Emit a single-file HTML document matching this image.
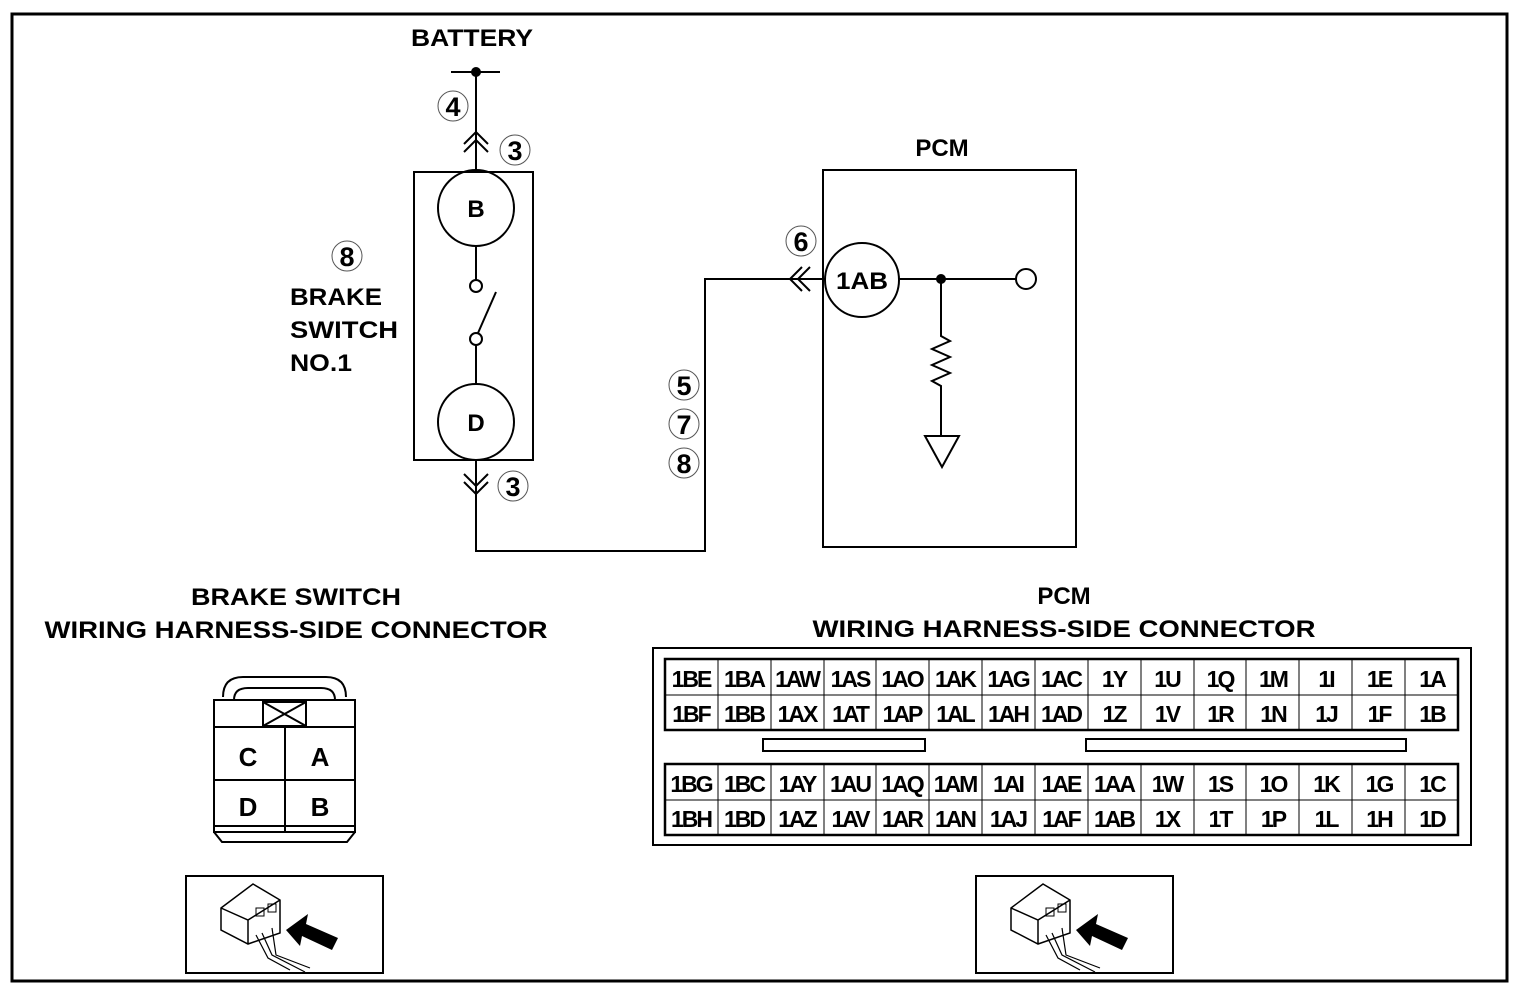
<!DOCTYPE html>
<html><head><meta charset="utf-8"><style>body{margin:0;background:#fff}svg{display:block}</style></head><body>
<svg width="1518" height="998" viewBox="0 0 1518 998" xmlns="http://www.w3.org/2000/svg" font-family="Liberation Sans, sans-serif" fill="none" stroke="#000">
<rect x="12" y="14" width="1495" height="967" stroke-width="3"/>
<g fill="#000" stroke="none" font-size="24" text-anchor="middle" font-weight="bold" stroke-width="0">
<text x="472" y="46" textLength="122" lengthAdjust="spacingAndGlyphs">BATTERY</text>
<text x="942" y="156">PCM</text>
<text x="290" y="305" text-anchor="start" textLength="92" lengthAdjust="spacingAndGlyphs">BRAKE</text>
<text x="290" y="338" text-anchor="start" textLength="108" lengthAdjust="spacingAndGlyphs">SWITCH</text>
<text x="290" y="371" text-anchor="start" textLength="62" lengthAdjust="spacingAndGlyphs">NO.1</text>
<text x="296" y="605" textLength="210" lengthAdjust="spacingAndGlyphs">BRAKE SWITCH</text>
<text x="296" y="638" textLength="503" lengthAdjust="spacingAndGlyphs">WIRING HARNESS-SIDE CONNECTOR</text>
<text x="1064" y="604">PCM</text>
<text x="1064" y="637" textLength="503" lengthAdjust="spacingAndGlyphs">WIRING HARNESS-SIDE CONNECTOR</text>
</g>
<!-- battery -->
<line x1="451" y1="72" x2="500" y2="72" stroke-width="2"/>
<circle cx="476" cy="72" r="5" fill="#000" stroke="none"/>
<line x1="476" y1="72" x2="476" y2="172" stroke-width="2"/>
<path d="M464 144 L476 132 L488 144 M464 152 L476 140 L488 152" stroke-width="2"/>
<!-- numbered circles -->
<g stroke-width="1" stroke="#555">
<circle cx="453" cy="106" r="15"/><circle cx="515" cy="150" r="15"/>
<circle cx="347" cy="256" r="15"/><circle cx="513" cy="486" r="15"/>
<circle cx="801" cy="241" r="15"/><circle cx="684" cy="385" r="15"/>
<circle cx="684" cy="424" r="15"/><circle cx="684" cy="463" r="15"/>
</g>
<g fill="#000" stroke="none" font-size="27" text-anchor="middle" font-weight="bold">
<text x="453" y="116">4</text><text x="515" y="160">3</text>
<text x="347" y="266">8</text><text x="513" y="496">3</text>
<text x="801" y="251">6</text><text x="684" y="395">5</text>
<text x="684" y="434">7</text><text x="684" y="473">8</text>
</g>
<!-- brake switch -->
<rect x="414" y="172" width="119" height="288" stroke-width="2"/>
<circle cx="476" cy="208" r="38" stroke-width="2"/>
<circle cx="476" cy="422" r="38" stroke-width="2"/>
<g fill="#000" stroke="none" font-size="24" font-weight="bold" text-anchor="middle"><text x="476" y="217">B</text><text x="476" y="431">D</text></g>
<line x1="476" y1="246" x2="476" y2="280" stroke-width="2"/>
<circle cx="476" cy="286" r="6" fill="#fff" stroke-width="2"/>
<circle cx="476" cy="339" r="6" fill="#fff" stroke-width="2"/>
<line x1="478" y1="333" x2="496" y2="292" stroke-width="2"/>
<line x1="476" y1="345" x2="476" y2="384" stroke-width="2"/>
<path d="M476 460 L476 551 L705 551 L705 279 L838 279" stroke-width="2"/>
<path d="M464 474 L476 486 L488 474 M464 482 L476 494 L488 482" stroke-width="2"/>
<path d="M802 267 L790 279 L802 291 M810 267 L798 279 L810 291" stroke-width="2"/>
<!-- PCM -->
<rect x="823" y="170" width="253" height="377" stroke-width="2"/>
<circle cx="862" cy="280" r="37" fill="#fff" stroke-width="2"/>
<text x="862" y="289" font-size="24" font-weight="bold" fill="#000" stroke="none" text-anchor="middle" textLength="52" lengthAdjust="spacingAndGlyphs">1AB</text>
<line x1="899" y1="279" x2="1016" y2="279" stroke-width="2"/>
<circle cx="941" cy="279" r="5" fill="#000" stroke="none"/>
<circle cx="1026" cy="279" r="10" stroke-width="2"/>
<path d="M941 279 L941 336 L950 341 L932 349 L950 357 L932 365 L950 373 L932 381 L941 386 L941 436" stroke-width="2"/>
<path d="M925 436 L959 436 L942 467 Z" stroke-width="2"/>
<!-- brake connector -->
<g stroke-width="2">
<path d="M223 697 Q223 677 243 677 L326 677 Q346 677 346 697"/>
<path d="M234 700 Q234 688 248 688 L321 688 Q335 688 335 700"/>
<rect x="214" y="700" width="141" height="132"/>
<line x1="214" y1="727" x2="355" y2="727"/>
<rect x="263" y="702" width="43" height="24"/>
<path d="M263 702 L306 726 M306 702 L263 726"/>
<line x1="285" y1="727" x2="285" y2="832"/>
<line x1="214" y1="780" x2="355" y2="780"/>
<line x1="214" y1="826" x2="355" y2="826"/>
<path d="M214 832 L222 842 L347 842 L355 832"/>
</g>
<g fill="#000" stroke="none" font-size="26" font-weight="bold" text-anchor="middle">
<text x="248" y="766">C</text><text x="320" y="766">A</text>
<text x="248" y="816">D</text><text x="320" y="816">B</text>
</g>
<!-- icons -->
<g id="ic">
<rect x="186" y="876" width="197" height="97" stroke-width="2"/>
<path d="M221 908 L253 884 L280 900 L280 933 L248 944 L221 930 Z M221 908 L248 920 L280 900 M248 920 L248 944" stroke-width="1.5"/>
<rect x="256" y="908" width="8" height="8" stroke-width="1"/><rect x="268" y="904" width="8" height="8" stroke-width="1"/>
<path d="M256 935 L268 958 L290 970 M262 933 L272 955 L305 972 M272 928 L276 955 L310 968" stroke-width="1.2"/>
<path d="M286 930 L308 914 L306 924 L338 938 L332 950 L302 936 L300 946 Z" fill="#000" stroke="none"/>
</g>
<use href="#ic" x="790"/>
<!-- PCM connector -->
<rect x="653" y="648" width="818" height="197" stroke-width="2"/>
<rect x="665" y="659" width="793" height="71" stroke-width="2.5"/>
<rect x="665" y="764" width="793" height="71" stroke-width="2.5"/>
<line x1="665" y1="695" x2="1458" y2="695" stroke-width="1"/>
<line x1="665" y1="800" x2="1458" y2="800" stroke-width="1"/>
<g stroke-width="1">
<path d="M718 659V730M771 659V730M824 659V730M876 659V730M929 659V730M982 659V730M1035 659V730M1088 659V730M1141 659V730M1194 659V730M1246 659V730M1299 659V730M1352 659V730M1405 659V730"/>
<path d="M718 764V835M771 764V835M824 764V835M876 764V835M929 764V835M982 764V835M1035 764V835M1088 764V835M1141 764V835M1194 764V835M1246 764V835M1299 764V835M1352 764V835M1405 764V835"/>
</g>
<rect x="763" y="739" width="162" height="12" stroke-width="2"/>
<rect x="1086" y="739" width="320" height="12" stroke-width="2"/>
<g fill="#000" stroke="none" font-size="23" font-weight="bold" text-anchor="middle" letter-spacing="-2">
<text y="687"><tspan x="691">1BE</tspan><tspan x="744">1BA</tspan><tspan x="797">1AW</tspan><tspan x="850">1AS</tspan><tspan x="902">1AO</tspan><tspan x="955">1AK</tspan><tspan x="1008">1AG</tspan><tspan x="1061">1AC</tspan><tspan x="1114">1Y</tspan><tspan x="1167">1U</tspan><tspan x="1220">1Q</tspan><tspan x="1273">1M</tspan><tspan x="1326">1I</tspan><tspan x="1379">1E</tspan><tspan x="1432">1A</tspan></text>
<text y="722"><tspan x="691">1BF</tspan><tspan x="744">1BB</tspan><tspan x="797">1AX</tspan><tspan x="850">1AT</tspan><tspan x="902">1AP</tspan><tspan x="955">1AL</tspan><tspan x="1008">1AH</tspan><tspan x="1061">1AD</tspan><tspan x="1114">1Z</tspan><tspan x="1167">1V</tspan><tspan x="1220">1R</tspan><tspan x="1273">1N</tspan><tspan x="1326">1J</tspan><tspan x="1379">1F</tspan><tspan x="1432">1B</tspan></text>
<text y="792"><tspan x="691">1BG</tspan><tspan x="744">1BC</tspan><tspan x="797">1AY</tspan><tspan x="850">1AU</tspan><tspan x="902">1AQ</tspan><tspan x="955">1AM</tspan><tspan x="1008">1AI</tspan><tspan x="1061">1AE</tspan><tspan x="1114">1AA</tspan><tspan x="1167">1W</tspan><tspan x="1220">1S</tspan><tspan x="1273">1O</tspan><tspan x="1326">1K</tspan><tspan x="1379">1G</tspan><tspan x="1432">1C</tspan></text>
<text y="827"><tspan x="691">1BH</tspan><tspan x="744">1BD</tspan><tspan x="797">1AZ</tspan><tspan x="850">1AV</tspan><tspan x="902">1AR</tspan><tspan x="955">1AN</tspan><tspan x="1008">1AJ</tspan><tspan x="1061">1AF</tspan><tspan x="1114">1AB</tspan><tspan x="1167">1X</tspan><tspan x="1220">1T</tspan><tspan x="1273">1P</tspan><tspan x="1326">1L</tspan><tspan x="1379">1H</tspan><tspan x="1432">1D</tspan></text>
</g>
</svg>
</body></html>
